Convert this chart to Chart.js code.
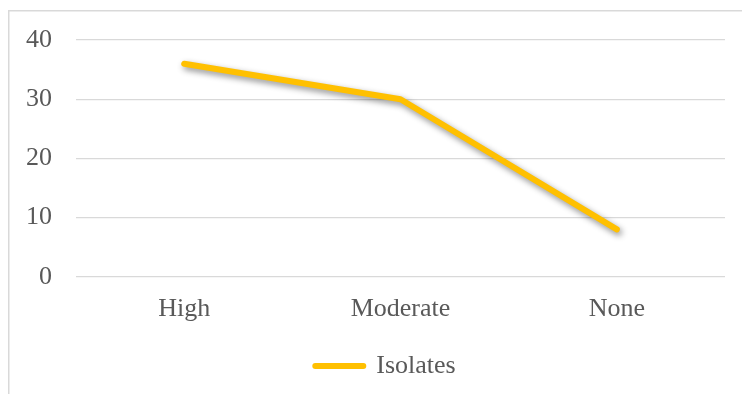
<!DOCTYPE html>
<html>
<head>
<meta charset="utf-8">
<script src="https://cdn.jsdelivr.net/npm/chart.js@4/dist/chart.umd.min.js"></script>
<style>
  html, body { margin: 0; padding: 0; background: #ffffff; }
  canvas { display: block; }
</style>
</head>
<body>
<canvas id="chart" width="742" height="394"></canvas>
<script>
// Categories and series values
const categories = ['High', 'Moderate', 'None'];
const isolates = [36, 30, 8];
const yTicks = [0, 10, 20, 30, 40];

const GOLD = '#FFC000';
const TEXT = '#595959';
const GRID = '#D9D9D9';
const FONT = "'Liberation Serif', 'Times New Roman', serif";
const FONT_SIZE = 26;

// Outer frame around the plot
const framePlugin = {
  id: 'frame',
  beforeDraw(chart) {
    const ctx = chart.ctx;
    ctx.save();
    ctx.fillStyle = '#ffffff';
    ctx.fillRect(0, 0, chart.width, chart.height);
    ctx.strokeStyle = GRID;
    ctx.lineWidth = 1.5;
    ctx.strokeRect(8.75, 10.75, chart.width + 20, chart.height + 20);
    ctx.restore();
  }
};

// Centre the legend under the whole frame rather than the plot area
const legendShift = {
  id: 'legendShift',
  afterLayout(chart) {
    const lg = chart.legend;
    if (lg) { lg.left += 23; lg.right += 23; }
  }
};

// Soft drop shadow under the line
const shadowPlugin = {
  id: 'lineShadow',
  beforeDatasetDraw(chart) {
    const ctx = chart.ctx;
    ctx.save();
    ctx.shadowColor = 'rgba(0,0,0,0.45)';
    ctx.shadowBlur = 6;
    ctx.shadowOffsetX = 2;
    ctx.shadowOffsetY = 3;
  },
  afterDatasetDraw(chart) {
    chart.ctx.restore();
  }
};

new Chart(document.getElementById('chart'), {
  type: 'line',
  data: {
    labels: categories,
    datasets: [{
      label: 'Isolates',
      data: isolates,
      borderColor: GOLD,
      backgroundColor: GOLD,
      borderWidth: 6,
      borderCapStyle: 'round',
      borderJoinStyle: 'round',
      pointRadius: 0,
      pointHoverRadius: 0,
      tension: 0,
      fill: false
    }]
  },
  options: {
    responsive: false,
    animation: false,
    layout: { padding: { left: 0, right: 17, top: 40, bottom: 5 } },
    plugins: {
      tooltip: { enabled: false },
      legend: {
        display: true,
        position: 'bottom',
        labels: {
          color: TEXT,
          font: { family: FONT, size: FONT_SIZE },
          usePointStyle: true,
          pointStyleWidth: 48,
          padding: 11,
          generateLabels() {
            return [{
              text: 'Isolates',
              fillStyle: GOLD,
              strokeStyle: GOLD,
              lineWidth: 6,
              lineCap: 'round',
              pointStyle: 'line',
              fontColor: TEXT,
              hidden: false,
              datasetIndex: 0
            }];
          }
        }
      }
    },
    scales: {
      x: {
        offset: true,
        grid: { display: false, drawTicks: false },
        border: { display: false },
        ticks: { color: TEXT, font: { family: FONT, size: FONT_SIZE }, padding: 17 }
      },
      y: {
        min: 0,
        max: 40,
        afterFit(scale) { scale.width = 76; },
        afterBuildTicks(scale) { scale.ticks = yTicks.map(v => ({ value: v })); },
        grid: { color: GRID, lineWidth: 1.3, drawTicks: false },
        border: { display: false },
        ticks: { color: TEXT, font: { family: FONT, size: FONT_SIZE }, padding: 24 }
      }
    }
  },
  plugins: [framePlugin, legendShift, shadowPlugin]
});
</script>
</body>
</html>
